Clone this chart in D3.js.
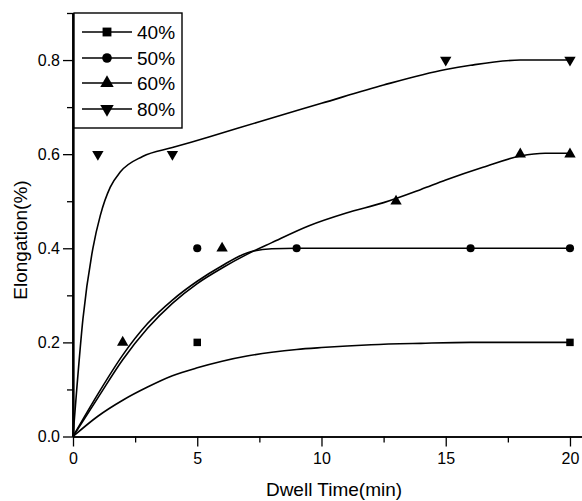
<!DOCTYPE html>
<html>
<head>
<meta charset="utf-8">
<script src="https://cdn.jsdelivr.net/npm/d3@7"></script>
<style>
  body { margin: 0; background: #fff; }
  svg { display: block; font-family: 'Liberation Sans', Arial, sans-serif; }
</style>
</head>
<body>
<svg width="582" height="501"></svg>
<script>
WIDTH = 582;
HEIGHT = 501;

// measured points
const seriesNames = ['40%', '50%', '60%', '80%'];
const pts40 = [[5, 0.2], [20, 0.2]];
const pts50 = [[5, 0.4], [9, 0.4], [16, 0.4], [20, 0.4]];
const pts60 = [[2, 0.2], [6, 0.4], [13, 0.5], [18, 0.6], [20, 0.6]];
const pts80 = [[1, 0.6], [4, 0.6], [15, 0.8], [20, 0.8]];

// fitted curves
const fitX40 = [0, 1, 2, 3, 4, 5, 6, 7, 8, 9, 10, 12, 14, 16, 20];
const fitY40 = [0, 0.043, 0.077, 0.105, 0.129, 0.146, 0.16, 0.171, 0.179, 0.185, 0.189, 0.195, 0.198, 0.2, 0.2];
const fitX50 = [0, 1, 2, 3, 4, 5, 6, 7, 8, 9, 20];
const fitY50 = [0, 0.09, 0.173, 0.24, 0.29, 0.33, 0.363, 0.39, 0.399, 0.4, 0.4];
const fitX60 = [0, 1, 2, 3, 4, 5, 6, 7, 8, 9.5, 11, 12.5, 14, 15, 16.5, 18, 19, 20];
const fitY60 = [0, 0.082, 0.163, 0.23, 0.283, 0.325, 0.358, 0.387, 0.412, 0.448, 0.475, 0.497, 0.525, 0.545, 0.572, 0.596, 0.602, 0.602];
const fitX80 = [0, 0.15, 0.4, 0.8, 1.1, 1.5, 1.9, 2.8, 4, 5.5, 7.5, 10, 12.5, 15, 16, 18, 20];
const fitY80 = [0, 0.1, 0.25, 0.4, 0.47, 0.53, 0.562, 0.595, 0.614, 0.637, 0.669, 0.708, 0.747, 0.78, 0.789, 0.8, 0.8];

const xMajor = [0, 5, 10, 15, 20];
const xMinor = [2.5, 7.5, 12.5, 17.5];
const yMajor = [0, 0.2, 0.4, 0.6, 0.8];
const yMinor = [0.1, 0.3, 0.5, 0.7, 0.9];

const zip = (xs, ys) => xs.map((v, i) => [v, ys[i]]);

const series = [
  {name: '40%', pts: pts40, fit: zip(fitX40, fitY40), symbol: d3.symbolSquare, size: 56, rot: 0},
  {name: '50%', pts: pts50, fit: zip(fitX50, fitY50), symbol: d3.symbolCircle, size: 52, rot: 0},
  {name: '60%', pts: pts60, fit: zip(fitX60, fitY60), symbol: d3.symbolTriangle, size: 56, rot: 0},
  {name: '80%', pts: pts80, fit: zip(fitX80, fitY80), symbol: d3.symbolTriangle, size: 56, rot: 180},
];

const margin = {top: 13, left: 73};
const x = d3.scaleLinear().domain([0, 20.5]).range([73, 582.4]);
const y = d3.scaleLinear().domain([0, 0.9]).range([436.5, 13]);

const svg = d3.select('svg');

// axes
const xAxis = svg.append('g').attr('transform', `translate(0, ${y(0)})`);
xAxis.call(d3.axisBottom(x).tickValues(xMajor).tickSize(10).tickSizeOuter(0).tickPadding(6)
  .tickFormat(d3.format('d')));
xAxis.append('g').call(d3.axisBottom(x).tickValues(xMinor).tickSize(6).tickSizeOuter(0).tickFormat(''));
xAxis.selectAll('.domain').attr('stroke-width', 1.6);

const yAxis = svg.append('g').attr('transform', `translate(${x(0)}, 0)`);
yAxis.call(d3.axisLeft(y).tickValues(yMajor).tickSize(10).tickSizeOuter(0).tickPadding(3)
  .tickFormat(d3.format('.1f')));
yAxis.append('g').call(d3.axisLeft(y).tickValues(yMinor).tickSize(6).tickSizeOuter(0).tickFormat(''));
yAxis.selectAll('.domain').attr('stroke-width', 1.8);

svg.selectAll('.tick line').attr('stroke-width', 1.3);
svg.selectAll('.tick text').attr('font-size', 16).attr('fill', '#000')
  .style('font-family', "'Liberation Sans', Arial, sans-serif");

// axis titles
svg.append('text')
  .attr('x', 334)
  .attr('y', 496)
  .attr('text-anchor', 'middle')
  .attr('font-size', 19)
  .text('Dwell Time(min)');

svg.append('text')
  .attr('transform', 'translate(27, 240) rotate(-90)')
  .attr('text-anchor', 'middle')
  .attr('font-size', 19)
  .text('Elongation(%)');

// fitted curves
const line = d3.line()
  .x((d) => x(d[0]))
  .y((d) => y(d[1]))
  .curve(d3.curveMonotoneX);

svg.selectAll('.fit')
  .data(series)
  .join('path')
  .attr('class', 'fit')
  .attr('fill', 'none')
  .attr('stroke', '#000')
  .attr('stroke-width', 1.6)
  .attr('d', (s) => line(s.fit));

// markers
series.forEach((s) => {
  svg.append('g')
    .selectAll('path')
    .data(s.pts)
    .join('path')
    .attr('transform', (d) => `translate(${x(d[0])}, ${y(d[1])}) rotate(${s.rot})`)
    .attr('d', d3.symbol().type(s.symbol).size(s.size))
    .attr('fill', '#000');
});

// legend
const legend = svg.append('g');
legend.append('rect')
  .attr('x', 74)
  .attr('y', 13)
  .attr('width', 108)
  .attr('height', 115)
  .attr('fill', '#fff')
  .attr('stroke', '#000')
  .attr('stroke-width', 1.4);

const legendY = [32, 58, 83, 109];
series.forEach((s, i) => {
  const g = legend.append('g').attr('transform', `translate(0, ${legendY[i]})`);
  g.append('line')
    .attr('x1', 82).attr('x2', 132)
    .attr('y1', 0).attr('y2', 0)
    .attr('stroke', '#000')
    .attr('stroke-width', 1.6);
  g.append('path')
    .attr('transform', `translate(107, 0) rotate(${s.rot})`)
    .attr('d', d3.symbol().type(s.symbol).size(s.size * 1.4))
    .attr('fill', '#000');
  g.append('text')
    .attr('x', 137)
    .attr('y', 7)
    .attr('font-size', 19)
    .text(s.name);
});

// redraw y axis line over the legend border
svg.append('line')
  .attr('x1', x(0)).attr('x2', x(0))
  .attr('y1', y(0.9)).attr('y2', y(0))
  .attr('stroke', '#000')
  .attr('stroke-width', 1.8);
</script>
</body>
</html>
